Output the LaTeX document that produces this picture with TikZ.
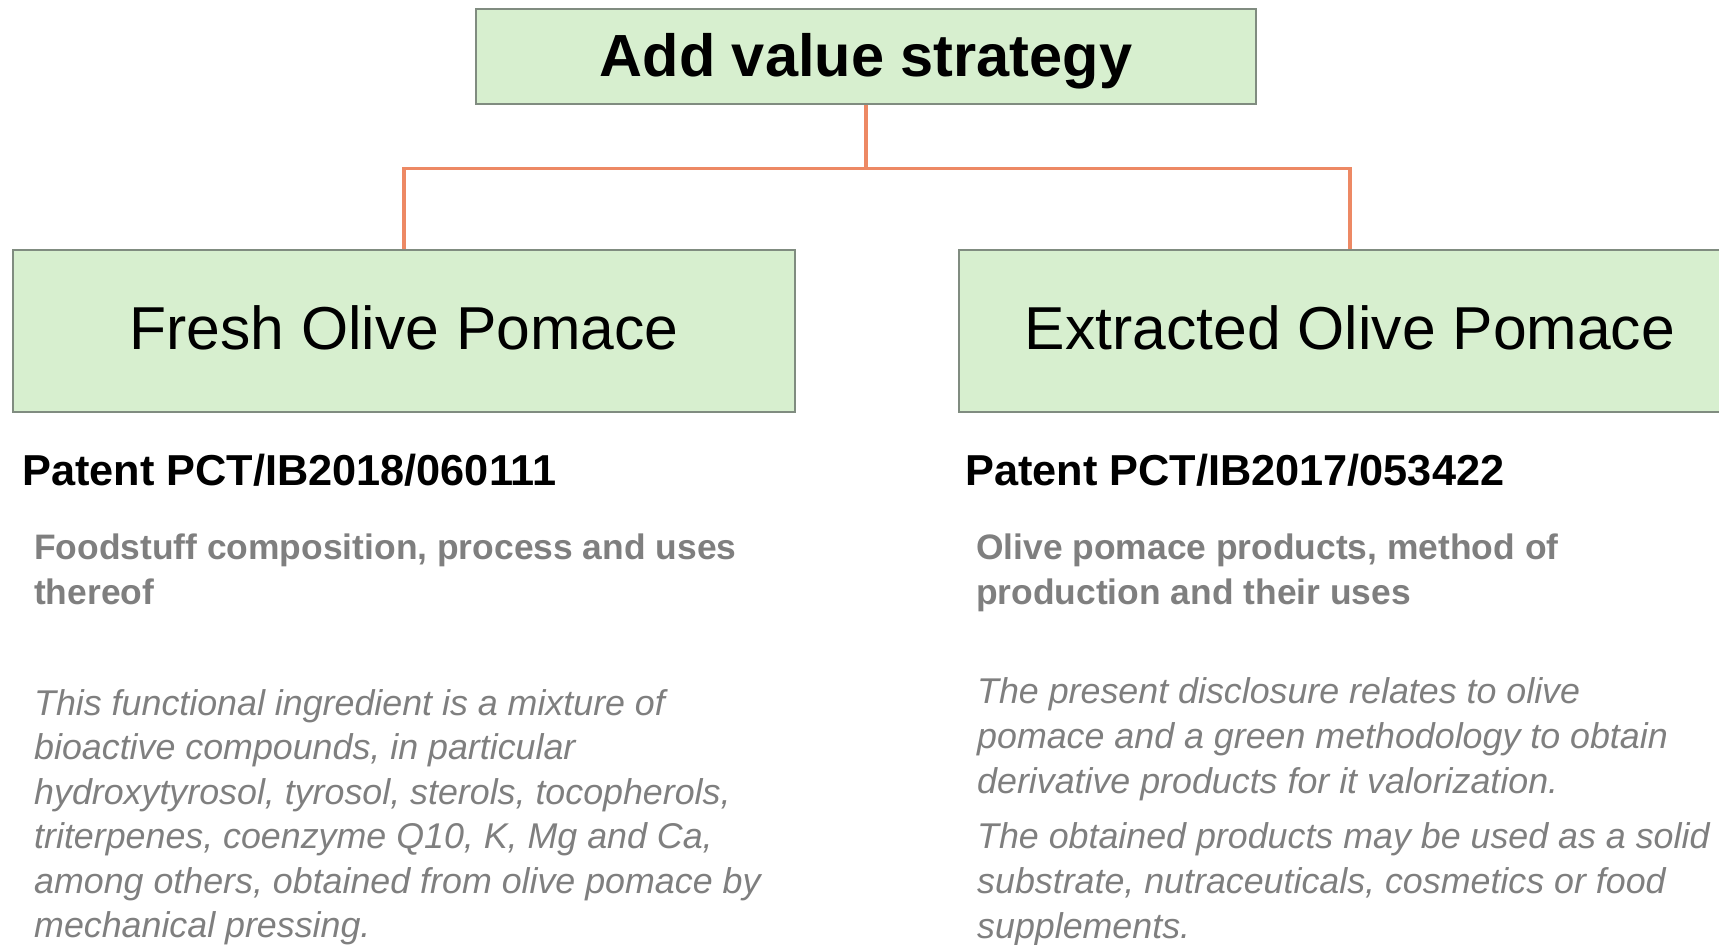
\documentclass[tikz,border=0pt]{standalone}
\usepackage{fontspec}
\setmainfont{Liberation Sans}
\definecolor{boxfill}{RGB}{215,239,207}
\definecolor{boxline}{RGB}{128,140,128}
\definecolor{conn}{RGB}{237,137,100}
\definecolor{txtgray}{RGB}{127,127,127}
\begin{document}
\begin{tikzpicture}[x=1pt,y=-1pt,
  box/.style={draw=boxline, line width=1.5pt, fill=boxfill, rectangle, inner sep=0pt},
  link/.style={draw=conn, line width=3.3pt},
  txt/.style={anchor=base west, inner sep=0pt},
  patent/.style={txt, font=\fontsize{43.3}{45}\selectfont\bfseries},
  head/.style={txt, text=txtgray, font=\fontsize{35.4}{40}\selectfont\bfseries},
  body/.style={txt, text=txtgray, font=\fontsize{35.8}{40}\selectfont\itshape}]
\useasboundingbox (0,0) rectangle (1719,945);
\clip (0,0) rectangle (1719,945);

\node[box, minimum width=780pt, minimum height=95pt, text height=39pt, text depth=0pt,
      font=\fontsize{59.5}{60}\selectfont\bfseries] (title) at (866,56.5) {Add value strategy};
\node[box, minimum width=782pt, minimum height=162pt, text height=36pt, text depth=0pt,
      font=\fontsize{60.6}{62}\selectfont] (fresh) at (404,331) {Fresh Olive Pomace};
\node[box, minimum width=782pt, minimum height=162pt, text height=36pt, text depth=0pt,
      font=\fontsize{60.6}{62}\selectfont] (extr) at (1350,331) {Extracted Olive Pomace};

\coordinate (j) at (866,168.5);
\draw[link] (title.south) -- (j);
\draw[link, line join=miter] (j) -| (fresh.north);
\draw[link, line join=miter] (j) -| (extr.north);

\node[patent] (p1) at (22,485) {Patent PCT/IB2018/060111};
\node[patent] (p2) at (965,485) {Patent PCT/IB2017/053422};

\node[head] (h1a) at (34,559) {Foodstuff composition, process and uses};
\node[head] (h1b) at (34,604) {thereof};
\node[head] (h2a) at (976,559) {Olive pomace products, method of};
\node[head] (h2b) at (976,604) {production and their uses};

\node[body] (l1) at (34,715) {This functional ingredient is a mixture of};
\node[body] (l2) at (34,759.5) {bioactive compounds, in particular};
\node[body] (l3) at (34,804) {hydroxytyrosol, tyrosol, sterols, tocopherols,};
\node[body] (l4) at (34,848.5) {triterpenes, coenzyme Q10, K, Mg and Ca,};
\node[body] (l5) at (34,893) {among others, obtained from olive pomace by};
\node[body] (l6) at (34,937.5) {mechanical pressing.};

\node[body] (r1) at (977,703) {The present disclosure relates to olive};
\node[body] (r2) at (977,748) {pomace and a green methodology to obtain};
\node[body] (r3) at (977,793) {derivative products for it valorization.};
\node[body] (r4) at (977,848) {The obtained products may be used as a solid};
\node[body] (r5) at (977,893) {substrate, nutraceuticals, cosmetics or food};
\node[body] (r6) at (977,938) {supplements.};
\end{tikzpicture}
\end{document}
